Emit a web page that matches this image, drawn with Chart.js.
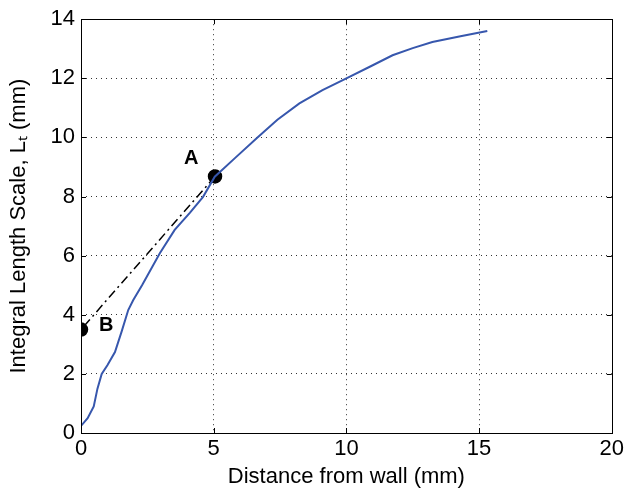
<!DOCTYPE html>
<html lang="en">
<head>
  <meta charset="UTF-8">
  <title>Integral Length Scale</title>
  <script src="https://cdn.jsdelivr.net/npm/chart.js"></script>
  <style>
    html, body { margin: 0; padding: 0; background: #fff; }
    #wrap { width: 627px; height: 491px; }
  </style>
</head>
<body>
  <div id="wrap"><canvas id="lsChart"></canvas></div>

  <script>
    // curve
    const distX = [0, 0.25, 0.48, 0.62, 0.78, 1.0, 1.28, 1.53, 1.78, 1.97, 2.3, 2.97, 3.53, 4.1, 4.6, 5.04, 5.8, 6.65, 7.4, 8.23, 9.1, 10.0, 10.9, 11.74, 12.5, 13.24, 14.3, 15.31];
    const scaleY = [0.24, 0.5, 0.9, 1.5, 2.0, 2.3, 2.74, 3.43, 4.16, 4.5, 5.0, 6.08, 6.87, 7.45, 7.99, 8.67, 9.3, 10.0, 10.6, 11.15, 11.6, 12.0, 12.4, 12.78, 13.02, 13.23, 13.42, 13.6];

    // points A and B and the dash-dot line between them
    const markX = [5.05, 0];
    const markY = [8.68, 3.5];
    const markNames = ['A', 'B'];
    const labelX = [4.15, 0.95];
    const labelY = [9.3, 3.65];

    const xTicks = [0, 5, 10, 15, 20];
    const yTicks = [0, 2, 4, 6, 8, 10, 12, 14];

    const font = 'Liberation Sans, Arial, sans-serif';

    // box round the plot, inward tick marks, A/B letters
    const frame = {
      id: 'frame',
      afterDatasetsDraw(chart) {
        const ctx = chart.ctx;
        const a = chart.chartArea;
        const xs = chart.scales.x, ys = chart.scales.y;
        ctx.save();
        ctx.strokeStyle = '#000';
        ctx.lineWidth = 1;
        ctx.beginPath();
        xTicks.forEach(function(v) {
          const p = Math.round(xs.getPixelForValue(v)) + 0.5;
          ctx.moveTo(p, a.bottom); ctx.lineTo(p, a.bottom - 5);
          ctx.moveTo(p, a.top); ctx.lineTo(p, a.top + 5);
        });
        yTicks.forEach(function(v) {
          const p = Math.round(ys.getPixelForValue(v)) + 0.5;
          ctx.moveTo(a.left, p); ctx.lineTo(a.left + 5, p);
          ctx.moveTo(a.right, p); ctx.lineTo(a.right - 5, p);
        });
        ctx.stroke();
        ctx.strokeRect(Math.round(a.left) + 0.5, Math.round(a.top) + 0.5,
                       Math.round(a.right - a.left), Math.round(a.bottom - a.top));

        ctx.fillStyle = '#000';
        ctx.font = 'bold 20px ' + font;
        ctx.textAlign = 'center';
        ctx.textBaseline = 'middle';
        markNames.forEach(function(n, i) {
          ctx.fillText(n, xs.getPixelForValue(labelX[i]), ys.getPixelForValue(labelY[i]));
        });
        ctx.restore();
      }
    };

    const ctx = document.getElementById('lsChart').getContext('2d');
    new Chart(ctx, {
      type: 'scatter',
      data: {
        datasets: [
          {
            data: distX.map(function(x, i) { return { x: x, y: scaleY[i] }; }),
            showLine: true,
            borderColor: '#3757ad',
            borderWidth: 2,
            pointRadius: 0,
            tension: 0
          },
          {
            data: markX.map(function(x, i) { return { x: x, y: markY[i] }; }),
            showLine: true,
            borderColor: '#000',
            borderWidth: 1.5,
            borderDash: [9, 4, 2, 4],
            pointRadius: 6.5,
            pointBackgroundColor: '#000',
            pointBorderColor: '#000'
          }
        ]
      },
      options: {
        responsive: true,
        maintainAspectRatio: false,
        animation: false,
        layout: { padding: { left: 0, right: 13, top: 19, bottom: 0 } },
        plugins: {
          legend: { display: false },
          tooltip: { enabled: false }
        },
        scales: {
          x: {
            type: 'linear',
            min: 0,
            max: 20,
            afterBuildTicks: function(s) { s.ticks = xTicks.map(function(v) { return { value: v }; }); },
            afterFit: function(s) { s.height = 58; },
            ticks: { color: '#000', font: { family: font, size: 22 }, padding: 3, maxRotation: 0 },
            grid: { color: '#333', drawTicks: false, lineWidth: function(c) { return (c.tick.value === 0 || c.tick.value === 20) ? 0 : 1; } },
            border: { display: false, dash: [1, 4] },
            title: { display: true, text: 'Distance from wall (mm)', color: '#000', font: { family: font, size: 22 }, padding: { top: 0, bottom: 1 } }
          },
          y: {
            min: 0,
            max: 14,
            afterBuildTicks: function(s) { s.ticks = yTicks.map(function(v) { return { value: v }; }); },
            afterFit: function(s) { s.width = 81; },
            ticks: { color: '#000', font: { family: font, size: 22 }, padding: 6 },
            grid: { color: '#333', drawTicks: false, lineWidth: function(c) { return (c.tick.value === 0 || c.tick.value === 14) ? 0 : 1; } },
            border: { display: false, dash: [1, 4] },
            title: { display: true, text: 'Integral Length Scale, Lₜ (mm)', color: '#000', font: { family: font, size: 22 }, padding: { top: 6, bottom: 0 } }
          }
        }
      },
      plugins: [frame]
    });
  </script>
</body>
</html>
